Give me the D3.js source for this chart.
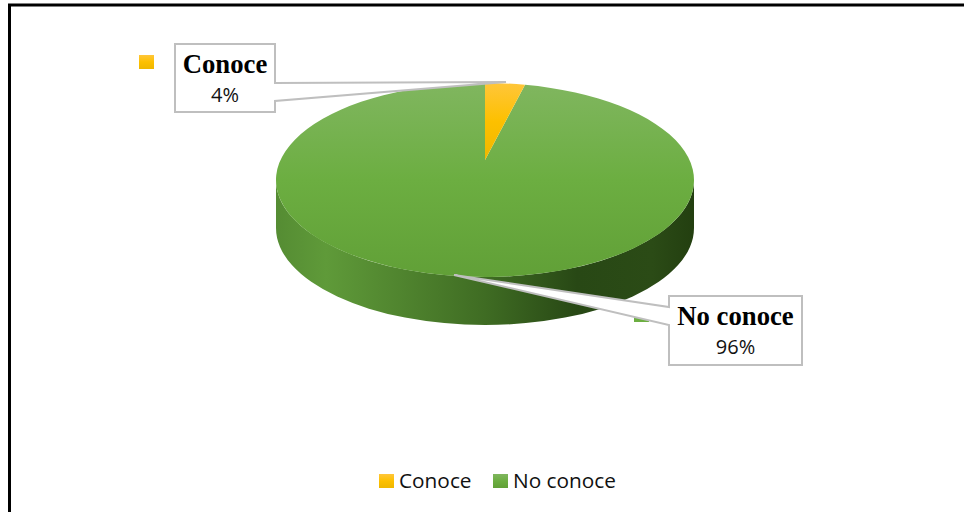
<!DOCTYPE html>
<html><head><meta charset="utf-8">
<script src="https://cdn.jsdelivr.net/npm/d3@7"></script>
<style>html,body{margin:0;padding:0;background:#fff}svg{display:block}</style>
</head><body><script>
const categories = ["Conoce", "No conoce"];
const seriesValues = [4, 96];
const valueLabels = ["4%", "96%"];
const goldStops = ["#ffc63a", "#fdc000", "#efb700"];
const greenStops = ["#80b65f", "#6cae41", "#61a037"];
const wallColors = ["#558c33", "#5f9a39", "#3f6c23", "#284815", "#2b4b16", "#233f10"];
const wallOffsets = [0, 0.12, 0.5, 0.72, 0.9, 1];

const W = 964, H = 512;
const svg = d3.select("body").append("svg").attr("width", W).attr("height", H);
const defs = svg.append("defs");
function vGrad(id, stops, y1, y2) {
  const g = defs.append("linearGradient").attr("id", id).attr("gradientUnits", "userSpaceOnUse")
    .attr("x1", 0).attr("x2", 0).attr("y1", y1).attr("y2", y2);
  stops.forEach((c, i) => g.append("stop").attr("offset", i / (stops.length - 1)).attr("stop-color", c));
}
const cx = 485, cy = 180, rx = 209, ry = 97, depth = 48, apexY = 160;
vGrad("goldTop", goldStops, 83, 160);
vGrad("greenTop", greenStops, 83, 277);
vGrad("goldKey", goldStops, 0, 0);
d3.select("#goldKey").attr("gradientUnits", "objectBoundingBox").attr("y2", 1);
vGrad("greenKey", greenStops, 0, 0);
d3.select("#greenKey").attr("gradientUnits", "objectBoundingBox").attr("y2", 1);
const wg = defs.append("linearGradient").attr("id", "wall").attr("gradientUnits", "userSpaceOnUse")
  .attr("x1", cx - rx).attr("x2", cx + rx).attr("y1", 0).attr("y2", 0);
wallColors.forEach((c, i) => wg.append("stop").attr("offset", wallOffsets[i]).attr("stop-color", c));

svg.append("path").attr("d", `M9.5 512V5H${W}`).attr("fill", "none").attr("stroke", "#000").attr("stroke-width", 3);

const arcs = d3.pie().sort(null).value(d => d).startAngle(0).endAngle(2 * Math.PI)(seriesValues);
const persp = 0.76;
const param = a => {
  const t = Math.atan2(persp * Math.sin(a), Math.cos(a));
  return t < 0 ? t + 2 * Math.PI : t;
};
const rim = (a, dy = 0) => {
  const t = a >= 2 * Math.PI - 1e-9 ? 0 : param(a);
  return [cx + rx * Math.sin(t), cy - ry * Math.cos(t) + dy];
};
function wedge(d) {
  const p0 = rim(d.startAngle), p1 = rim(d.endAngle);
  const large = (d.endAngle - d.startAngle) > Math.PI ? 1 : 0;
  return `M${cx} ${apexY}L${p0[0]} ${p0[1]}A${rx} ${ry} 0 ${large} 1 ${p1[0]} ${p1[1]}Z`;
}

svg.append("rect").attr("x", 634).attr("y", 307).attr("width", 15).attr("height", 15).attr("fill", "#6cae41");

svg.append("path")
  .attr("d", `M${cx - rx} ${cy}A${rx} ${ry} 0 0 0 ${cx + rx} ${cy}L${cx + rx} ${cy + depth}A${rx} ${ry} 0 0 1 ${cx - rx} ${cy + depth}Z`)
  .attr("fill", "url(#wall)");

svg.append("g").selectAll("path").data([arcs[1], arcs[0]]).join("path")
  .attr("d", wedge)
  .attr("fill", d => d.index === 0 ? "url(#goldTop)" : "url(#greenTop)");

svg.append("rect").attr("x", 139).attr("y", 55).attr("width", 15).attr("height", 14).attr("fill", "url(#goldKey)");

const callouts = [
  { x: 175, y: 44, w: 100, h: 68, path: (x, y, w, h) => `M${x} ${y}H${x + w}V${y + 39}L506 82L${x + w} ${y + 57}V${y + h}H${x}Z` },
  { x: 669, y: 296, w: 133, h: 69, path: (x, y, w, h) => `M${x} ${y}H${x + w}V${y + h}H${x}V${y + 29}L454 275L${x} ${y + 11}Z` }
];
callouts.forEach((c, i) => {
  const g = svg.append("g");
  g.append("path").attr("d", c.path(c.x, c.y, c.w, c.h)).attr("fill", "#fff").attr("stroke", "#bfbfbf").attr("stroke-width", 2);
  g.append("text").attr("x", c.x + c.w / 2).attr("y", c.y + 29).attr("text-anchor", "middle")
    .attr("font-family", "'Liberation Serif'").attr("font-weight", "bold").attr("font-size", 26.7).attr("fill", "#000").text(categories[i]);
  g.append("text").attr("x", c.x + c.w / 2).attr("y", c.y + 58).attr("text-anchor", "middle")
    .attr("font-family", "'Open Sans'").attr("font-size", 20).attr("fill", "#111").text(valueLabels[i]);
});

const legendX = d3.scaleOrdinal().domain(categories).range([379, 493]);
const lg = svg.append("g").selectAll("g").data(categories).join("g")
  .attr("transform", d => `translate(${legendX(d)},474)`);
lg.append("rect").attr("width", 15).attr("height", 14).attr("fill", (d, i) => i === 0 ? "url(#goldKey)" : "url(#greenKey)");
lg.append("text").attr("x", 20).attr("y", 14).attr("font-family", "'Open Sans'").attr("font-size", 20.8).attr("fill", "#111").text(d => d);
</script></body></html>
